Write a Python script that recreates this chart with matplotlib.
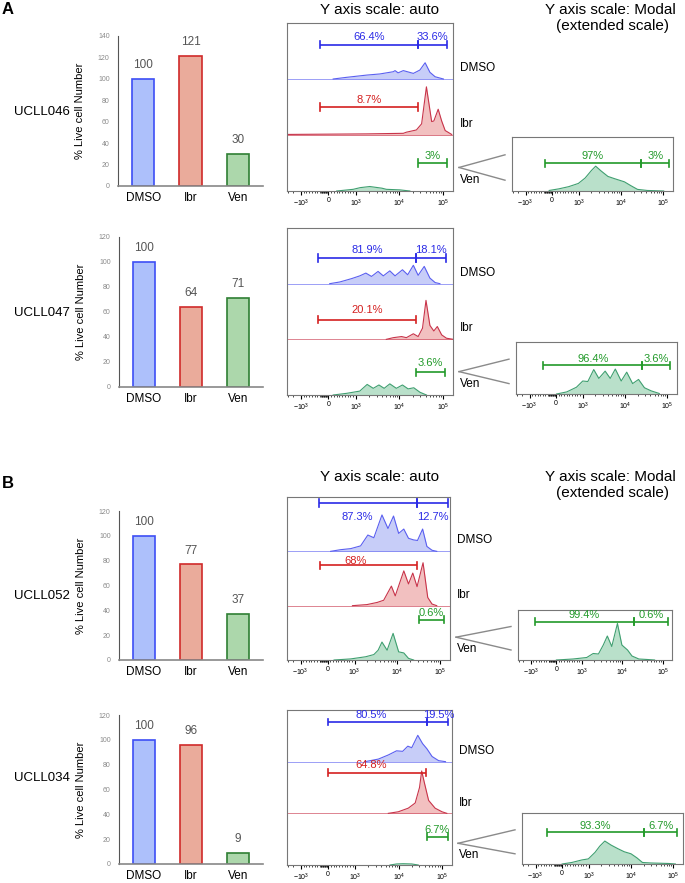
import matplotlib
matplotlib.use('Agg')
import matplotlib.pyplot as plt
from matplotlib.lines import Line2D
import numpy as np

plt.rcParams['font.family'] = ['Liberation Sans', 'DejaVu Sans']
plt.rcParams['mathtext.default'] = 'regular'

W, H = 685, 883

# ---------------- data ----------------
conditions = ['DMSO', 'Ibr', 'Ven']
samples = ['UCLL046', 'UCLL047', 'UCLL052', 'UCLL034']

# % live cell number (bar charts)
live_046 = [100, 121, 30]
live_047 = [100, 64, 71]
live_052 = [100, 77, 37]
live_034 = [100, 96, 9]
live = [live_046, live_047, live_052, live_034]
bar_ymax = [140, 120, 120, 120]

# histogram curves: x = log10 channel position, h = fraction of track height
h046_dmso_x = [2.48, 2.79, 3.25, 3.55, 3.86, 3.90, 3.97, 4.09, 4.32, 4.47, 4.59, 4.70, 4.82, 5.01]
h046_dmso_h = [0.0, 0.03, 0.07, 0.09, 0.13, 0.15, 0.11, 0.15, 0.10, 0.16, 0.29, 0.12, 0.04, 0.0]
h046_ibr_x = [1.41, 3.25, 4.09, 4.16, 4.39, 4.51, 4.62, 4.68, 4.74, 4.79, 4.89, 4.97, 5.05, 5.20]
h046_ibr_h = [0.01, 0.02, 0.03, 0.05, 0.09, 0.20, 0.86, 0.55, 0.24, 0.25, 0.46, 0.25, 0.08, 0.01]
h046_ven_x = [2.56, 2.94, 3.10, 3.32, 3.60, 3.70, 4.01, 4.24]
h046_ven_h = [0.0, 0.03, 0.06, 0.08, 0.05, 0.03, 0.02, 0.0]

h047_dmso_x = [2.40, 2.63, 2.90, 3.09, 3.23, 3.36, 3.51, 3.63, 3.78, 3.90, 4.07, 4.19, 4.32, 4.43, 4.57, 4.70, 4.82, 4.93]
h047_dmso_h = [0.0, 0.03, 0.09, 0.14, 0.19, 0.13, 0.22, 0.14, 0.23, 0.14, 0.25, 0.16, 0.33, 0.15, 0.31, 0.10, 0.02, 0.0]
h047_ibr_x = [3.70, 3.86, 4.05, 4.16, 4.32, 4.43, 4.53, 4.61, 4.70, 4.79, 4.87, 4.97, 5.08, 5.24]
h047_ibr_h = [0.0, 0.03, 0.05, 0.03, 0.10, 0.05, 0.20, 0.70, 0.25, 0.15, 0.23, 0.08, 0.02, 0.0]
h047_ven_x = [2.48, 2.79, 3.09, 3.26, 3.40, 3.53, 3.65, 3.78, 3.93, 4.07, 4.20, 4.33, 4.47, 4.62]
h047_ven_h = [0.0, 0.03, 0.07, 0.19, 0.12, 0.18, 0.12, 0.20, 0.12, 0.18, 0.11, 0.13, 0.05, 0.0]

h052_dmso_x = [2.44, 2.67, 2.91, 3.14, 3.31, 3.45, 3.64, 3.78, 3.91, 4.03, 4.15, 4.26, 4.38, 4.47, 4.59, 4.69, 4.81, 4.92]
h052_dmso_h = [0.0, 0.03, 0.05, 0.10, 0.30, 0.25, 0.67, 0.42, 0.65, 0.33, 0.41, 0.24, 0.21, 0.20, 0.41, 0.09, 0.02, 0.0]
h052_ibr_x = [2.95, 3.29, 3.53, 3.68, 3.86, 3.95, 4.15, 4.26, 4.36, 4.46, 4.60, 4.71, 4.81, 4.92]
h052_ibr_h = [0.0, 0.02, 0.06, 0.10, 0.36, 0.18, 0.64, 0.40, 0.60, 0.35, 0.79, 0.15, 0.03, 0.0]
h052_ven_x = [2.52, 2.91, 3.26, 3.45, 3.55, 3.64, 3.76, 3.90, 4.03, 4.15, 4.26, 4.38]
h052_ven_h = [0.0, 0.02, 0.06, 0.10, 0.18, 0.33, 0.18, 0.49, 0.15, 0.13, 0.03, 0.0]

h034_dmso_x = [3.22, 3.53, 3.76, 3.95, 4.09, 4.21, 4.30, 4.44, 4.55, 4.65, 4.77, 4.92, 5.08]
h034_dmso_h = [0.0, 0.05, 0.13, 0.21, 0.20, 0.30, 0.27, 0.51, 0.35, 0.25, 0.10, 0.02, 0.0]
h034_ibr_x = [3.76, 3.99, 4.22, 4.38, 4.48, 4.53, 4.59, 4.69, 4.84, 5.00, 5.11]
h034_ibr_h = [0.0, 0.03, 0.10, 0.20, 0.50, 0.82, 0.60, 0.25, 0.10, 0.03, 0.0]
h034_ven_x = [3.80, 3.95, 4.10, 4.30, 4.45]
h034_ven_h = [0.0, 0.02, 0.025, 0.02, 0.0]

hist_x = [[h046_dmso_x, h046_ibr_x, h046_ven_x], [h047_dmso_x, h047_ibr_x, h047_ven_x],
          [h052_dmso_x, h052_ibr_x, h052_ven_x], [h034_dmso_x, h034_ibr_x, h034_ven_x]]
hist_h = [[h046_dmso_h, h046_ibr_h, h046_ven_h], [h047_dmso_h, h047_ibr_h, h047_ven_h],
          [h052_dmso_h, h052_ibr_h, h052_ven_h], [h034_dmso_h, h034_ibr_h, h034_ven_h]]

# Ven on modal (extended) scale
m046_x = [2.30, 2.53, 2.76, 2.99, 3.15, 3.30, 3.40, 3.53, 3.69, 3.84, 4.08, 4.23, 4.39, 4.62, 5.01]
m046_h = [0.01, 0.04, 0.08, 0.14, 0.24, 0.38, 0.46, 0.37, 0.27, 0.23, 0.17, 0.10, 0.03, 0.01, 0.0]
m047_x = [2.38, 2.62, 2.85, 3.00, 3.12, 3.26, 3.38, 3.53, 3.65, 3.77, 3.91, 4.04, 4.18, 4.32, 4.46, 4.62, 4.81]
m047_h = [0.0, 0.04, 0.13, 0.25, 0.24, 0.47, 0.30, 0.44, 0.30, 0.48, 0.25, 0.42, 0.20, 0.28, 0.12, 0.06, 0.01]
m052_x = [2.37, 2.78, 3.12, 3.28, 3.41, 3.53, 3.63, 3.74, 3.88, 3.99, 4.13, 4.24, 4.41, 4.62, 4.80]
m052_h = [0.0, 0.02, 0.05, 0.13, 0.12, 0.30, 0.48, 0.27, 0.73, 0.30, 0.20, 0.08, 0.02, 0.01, 0.0]
m034_x = [2.37, 2.60, 2.84, 2.99, 3.15, 3.26, 3.38, 3.53, 3.69, 3.84, 4.00, 4.14, 4.27, 4.47, 4.90, 5.05]
m034_h = [0.0, 0.03, 0.08, 0.10, 0.23, 0.35, 0.45, 0.37, 0.30, 0.24, 0.20, 0.12, 0.03, 0.02, 0.01, 0.0]
modal_x = [m046_x, m047_x, m052_x, m034_x]
modal_h = [m046_h, m047_h, m052_h, m034_h]

# gates (low, high, percent)
gates = [
    [[(2.17, 4.43, '66.4%'), (4.43, 5.09, '33.6%')], [(2.17, 4.43, '8.7%')], [(4.43, 5.09, '3%')]],
    [[(2.13, 4.38, '81.9%'), (4.38, 5.07, '18.1%')], [(2.13, 4.38, '20.1%')], [(4.38, 5.05, '3.6%')]],
    [[(2.17, 4.46, '87.3%'), (4.46, 5.19, '12.7%')], [(2.19, 4.46, '68%')], [(4.50, 5.10, '0.6%')]],
    [[(2.36, 4.65, '80.5%'), (4.65, 5.14, '19.5%')], [(2.36, 4.63, '64.8%')], [(4.65, 5.14, '6.7%')]],
]
modal_gates = [
    [(2.19, 4.48, '97%'), (4.48, 5.14, '3%')],
    [(2.07, 4.40, '96.4%'), (4.40, 5.06, '3.6%')],
    [(1.83, 4.28, '99.4%'), (4.28, 5.13, '0.6%')],
    [(2.02, 4.31, '93.3%'), (4.31, 5.09, '6.7%')],
]

# ---------------- layout ----------------
rows = [
    dict(bar=(118, 36, 263, 186), mid=(287, 23, 453, 191), modal=(512, 137, 673, 191), label_y=112),
    dict(bar=(119, 237, 263, 387), mid=(287, 228, 453, 395), modal=(516, 342, 677, 394), label_y=313),
    dict(bar=(119, 511, 263, 660), mid=(287, 497, 450, 660), modal=(518, 610, 672, 660), label_y=596),
    dict(bar=(119, 715, 263, 864), mid=(287, 710, 452, 865), modal=(522, 813, 683, 864), label_y=778),
]
# bracket height / label height within track, optional label x
gate_pos = [
    [(0.61, 0.75, None), (0.50, 0.63, None), (0.50, 0.62, None)],
    [(0.46, 0.60, None), (0.35, 0.52, None), (0.41, 0.57, None)],
    [(0.89, 0.64, [3.06, 4.83]), (0.74, 0.82, [3.02]), (0.74, 0.87, None)],
    [(0.77, 0.90, [3.37, 4.92]), (0.79, 0.94, [3.37]), (0.55, 0.67, [4.88])],
]
modal_pos = [(0.51, 0.64), (0.55, 0.68), (0.77, 0.91), (0.62, 0.75)]

bar_face = ['#adc0fb', '#eaab9b', '#acd7ab']
bar_edge = ['#3d4ef5', '#d02a2a', '#2f7f33']
hist_fill = ['#c7cdf8', '#f2c0c0', '#b9e0ca']
hist_line = ['#5a5ff0', '#c8344a', '#3f9f70']
gate_col = ['#2a2ae6', '#d42020', '#229a2a']

XLIM = (1.42, 5.23)
ZERO = 2.37
LIN = 0.63


def fpos(v):
    if v >= 1000:
        return np.log10(v)
    if v <= -1000:
        return ZERO - LIN - np.log10(-v / 1000) * LIN
    return ZERO + v / 1000 * LIN


major_vals = [-1000, 0, 1000, 10000, 100000]
major_lbls = ['$-10^3$', '0', '$10^3$', '$10^4$', '$10^5$']
minor_vals = ([-3000, -2000] + list(range(-900, -300, 100)) + list(range(-300, 0, 25))
              + list(range(100, 1000, 100)) + [k * 10 ** e for e in (3, 4) for k in range(2, 10)])


def px_axes(fig, box):
    l, t, r, b = box
    return fig.add_axes([l / W, 1 - b / H, (r - l) / W, (b - t) / H])


def flow_xaxis(ax):
    ax.set_xlim(*XLIM)
    ax.set_xticks([fpos(v) for v in major_vals])
    ax.set_xticklabels(major_lbls)
    ax.set_xticks([fpos(v) for v in minor_vals], minor=True)
    ax.tick_params(axis='x', which='major', length=3, width=0.8, labelsize=5, pad=1.5)
    ax.tick_params(axis='x', which='minor', length=1.6, width=0.5)
    ax.set_yticks([])
    for s in ax.spines.values():
        s.set_color('#777777')
        s.set_linewidth(0.8)


def draw_gate(ax, g, yb, yl, cap, color, lx=None):
    for j, (lo, hi, txt) in enumerate(g):
        ax.plot([lo, hi], [yb, yb], color=color, lw=1.2, solid_capstyle='butt')
        ax.plot([lo, lo], [yb - cap, yb + cap], color=color, lw=1.2)
        ax.plot([hi, hi], [yb - cap, yb + cap], color=color, lw=1.2)
        x = (lo + hi) / 2 if lx is None else lx[j]
        ax.text(x, yl, txt, color=color, fontsize=8, ha='center', va='center')


def fig_line(fig, p0, p1):
    fig.add_artist(Line2D([p0[0] / W, p1[0] / W], [1 - p0[1] / H, 1 - p1[1] / H],
                          color='#8a8a8a', lw=1.0, transform=fig.transFigure))


fig = plt.figure(figsize=(W / 100, H / 100), dpi=100)

for r, lay in enumerate(rows):
    # bar chart
    ax = px_axes(fig, lay['bar'])
    xs = np.arange(len(conditions))
    ax.bar(xs, live[r], width=0.47, color=bar_face, edgecolor=bar_edge, linewidth=1.2)
    for i, v in enumerate(live[r]):
        ax.annotate(str(v), (i, v), xytext=(0, 10), textcoords='offset points',
                    ha='center', va='center', fontsize=8.5, color='#555555')
    ax.set_xlim(-0.53, 2.53)
    ax.set_ylim(0, bar_ymax[r])
    ax.set_yticks(range(0, bar_ymax[r] + 1, 20))
    ax.set_xticks(xs)
    ax.set_xticklabels(conditions)
    ax.tick_params(axis='y', length=0, labelsize=5, labelcolor='#8a8a8a', pad=6)
    ax.tick_params(axis='x', length=0, labelsize=8.5, pad=4)
    for s in ('top', 'right'):
        ax.spines[s].set_visible(False)
    ax.spines['left'].set_color('#555555')
    ax.spines['bottom'].set_color('#888888')
    ax.spines['bottom'].set_linewidth(1.2)
    ax.set_ylabel('% Live cell Number', fontsize=8)
    ax.yaxis.set_label_coords(-0.23, 0.5)
    fig.text(14 / W, 1 - lay['label_y'] / H, samples[r], fontsize=9.5, ha='left', va='center')

    # stacked histograms, auto scale
    ax2 = px_axes(fig, lay['mid'])
    ax2.set_ylim(0, 3)
    for k in range(3):
        base = 2 - k
        x = hist_x[r][k]
        y = np.array(hist_h[r][k]) + base
        ax2.axhline(base, color=hist_line[k], lw=0.6, alpha=0.7)
        ax2.fill_between(x, base, y, color=hist_fill[k], lw=0)
        ax2.plot(x, y, color=hist_line[k], lw=0.8)
        yb, yl, lx = gate_pos[r][k]
        draw_gate(ax2, gates[r][k], base + yb, base + yl, 0.065, gate_col[k], lx)
        ax2.text(1.04, (base + 0.2) / 3, conditions[k], transform=ax2.transAxes,
                 fontsize=8.5, ha='left', va='center')
    flow_xaxis(ax2)

    # modal scale for Ven
    ax3 = px_axes(fig, lay['modal'])
    ax3.set_ylim(0, 1)
    ax3.fill_between(modal_x[r], 0, modal_h[r], color=hist_fill[2], lw=0)
    ax3.plot(modal_x[r], modal_h[r], color=hist_line[2], lw=0.8)
    draw_gate(ax3, modal_gates[r], modal_pos[r][0], modal_pos[r][1], 0.07, gate_col[2])
    flow_xaxis(ax3)

    # connector "<"
    ml, mt, mr, mb = lay['mid']
    ol, ot, orr, ob = lay['modal']
    apex = (mr + 6, mb - 0.42 * (mb - mt) / 3)
    fig_line(fig, apex, (ol - 7, ob - 0.67 * (ob - ot)))
    fig_line(fig, apex, (ol - 7, ob - 0.2 * (ob - ot)))

# titles and panel letters
for top in (10, 477):
    fig.text(380 / W, 1 - top / H, 'Y axis scale: auto', fontsize=11, ha='center', va='center')
    fig.text(610 / W, 1 - top / H, 'Y axis scale: Modal', fontsize=11, ha='center', va='center')
    fig.text(613 / W, 1 - (top + 16) / H, '(extended scale)', fontsize=11, ha='center', va='center')
fig.text(2 / W, 1 - 9 / H, 'A', fontsize=12, fontweight='bold', ha='left', va='center')
fig.text(2 / W, 1 - 484 / H, 'B', fontsize=12, fontweight='bold', ha='left', va='center')

fig.savefig('out.png', dpi=100)
